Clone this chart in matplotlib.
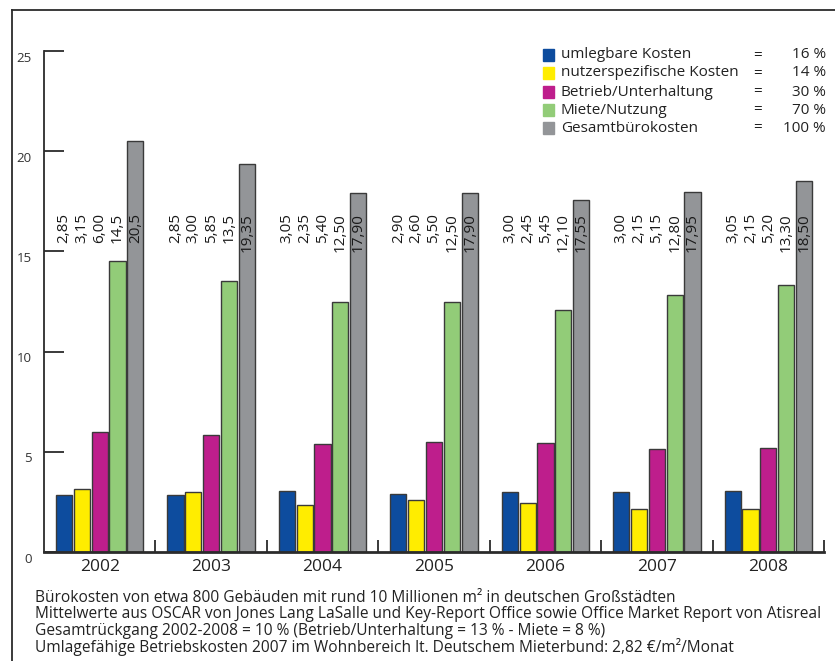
import matplotlib.pyplot as plt
import numpy as np
from matplotlib.lines import Line2D
from matplotlib.transforms import ScaledTranslation

plt.rcParams['font.family'] = ['Open Sans', 'DejaVu Sans']

# Data
years = ['2002', '2003', '2004', '2005', '2006', '2007', '2008']
series = ['umlegbare Kosten', 'nutzerspezifische Kosten', 'Betrieb/Unterhaltung',
          'Miete/Nutzung', 'Gesamtbürokosten']
shares = ['16 %', '14 %', '30 %', '70 %', '100 %']
umlegbar = [2.85, 2.85, 3.05, 2.90, 3.00, 3.00, 3.05]
nutzer = [3.15, 3.00, 2.35, 2.60, 2.45, 2.15, 2.15]
betrieb = [6.00, 5.85, 5.40, 5.50, 5.45, 5.15, 5.20]
miete = [14.5, 13.5, 12.50, 12.50, 12.10, 12.80, 13.30]
gesamt = [20.5, 19.35, 17.90, 17.90, 17.55, 17.95, 18.50]
labels_umlegbar = ['2,85', '2,85', '3,05', '2,90', '3,00', '3,00', '3,05']
labels_nutzer = ['3,15', '3,00', '2,35', '2,60', '2,45', '2,15', '2,15']
labels_betrieb = ['6,00', '5,85', '5,40', '5,50', '5,45', '5,15', '5,20']
labels_miete = ['14,5', '13,5', '12,50', '12,50', '12,10', '12,80', '13,30']
labels_gesamt = ['20,5', '19,35', '17,90', '17,90', '17,55', '17,95', '18,50']
footer = [
    'Bürokosten von etwa 800 Gebäuden mit rund 10 Millionen m² in deutschen Großstädten',
    'Mittelwerte aus OSCAR von Jones Lang LaSalle und Key-Report Office sowie Office Market Report von Atisreal',
    'Gesamtrückgang 2002-2008 = 10 % (Betrieb/Unterhaltung = 13 % - Miete = 8 %)',
    'Umlagefähige Betriebskosten 2007 im Wohnbereich lt. Deutschem Mieterbund: 2,82 €/m²/Monat',
]

values = [umlegbar, nutzer, betrieb, miete, gesamt]
labels = [labels_umlegbar, labels_nutzer, labels_betrieb, labels_miete, labels_gesamt]
colors = ['#0d4c9e', '#ffed00', '#be1e8c', '#92cc78', '#939598']

W, H = 835, 661
fig = plt.figure(figsize=(W / 100, H / 100), dpi=100)
ax = fig.add_axes([44 / W, (H - 552) / H, 780 / W, 501 / H])

x = np.arange(len(years))
step = 0.16
width = 0.145
ink = '#2b2b2b'

for i, (vals, labs, col) in enumerate(zip(values, labels, colors)):
    pos = x + (i - 2) * step
    ax.bar(pos, vals, width=width, color=col, edgecolor='#3a3a3a', linewidth=1.0,
           zorder=2)
    for p, lab in zip(pos, labs):
        ax.text(p, 16.9, lab, rotation=90, ha='center', va='top', fontsize=11,
                color='#1a1a1a', zorder=3)

ax.set_xlim(-0.5, len(years) - 0.5)
ax.set_ylim(0, 25)

for s in ['top', 'right']:
    ax.spines[s].set_visible(False)
ax.spines['left'].set_color(ink)
ax.spines['left'].set_linewidth(1.3)
ax.spines['bottom'].set_color(ink)
ax.spines['bottom'].set_linewidth(2.0)

ax.set_yticks([0, 5, 10, 15, 20, 25])
ax.set_yticklabels(['0', '5', '10', '15', '20', '25'])
ax.tick_params(axis='y', direction='in', length=14.5, width=1.3, color=ink,
               labelsize=9.5, labelcolor='#333333', pad=9)
for t in ax.get_yticklabels():
    t.set_transform(t.get_transform() + ScaledTranslation(0, -4 / 72, fig.dpi_scale_trans))

ax.set_xticks(x)
ax.set_xticklabels(years)
ax.set_xticks(np.arange(0.5, len(years)), minor=True)
ax.tick_params(axis='x', which='major', length=0, labelsize=12.5, labelcolor='#222222',
               pad=5)
ax.tick_params(axis='x', which='minor', direction='in', length=9, width=1.3, color=ink)

# legend
row_y = [55, 73, 92, 110, 128]
for name, share, col, ry in zip(series, shares, colors, row_y):
    yf = 1 - ry / H
    fig.patches.append(plt.Rectangle((543 / W, yf - 5.5 / H), 11 / W, 11 / H,
                                     transform=fig.transFigure, color=col))
    fig.text(561 / W, yf, name, fontsize=11, va='center', ha='left', color='#222222')
    fig.text(758 / W, yf, '=', fontsize=11, va='center', ha='center', color='#222222')
    fig.text(826 / W, yf, share, fontsize=11, va='center', ha='right', color='#222222')

# footer
for k, line in enumerate(footer):
    fig.text(35 / W, 1 - (598 + k * 16.3) / H, line, fontsize=11.2, va='center',
             ha='left', color='#222222')

# frame
fig.add_artist(Line2D([12 / W, 12 / W], [0, 1 - 10 / H], transform=fig.transFigure,
                      color=ink, linewidth=1.3))
fig.add_artist(Line2D([12 / W, 1], [1 - 10 / H, 1 - 10 / H], transform=fig.transFigure,
                      color=ink, linewidth=1.3))

fig.savefig('out.png', dpi=100)
